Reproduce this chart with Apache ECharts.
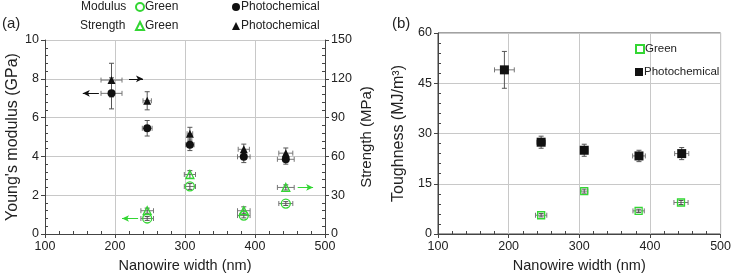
<!DOCTYPE html>
<html>
<head>
<meta charset="utf-8">
<script src="https://cdn.jsdelivr.net/npm/echarts@6/dist/echarts.min.js"></script>
<style>
  html, body { margin: 0; padding: 0; background: #fff; }
  #chart { width: 734px; height: 278px; }
</style>
</head>
<body>
<div id="chart"></div>
<script>
// [width, value, width err, value err]
const modulusGreen = [[246, 0.8, 9, 0.1], [307, 2.45, 8, 0.15], [384, 0.95, 9, 0.12], [444, 1.57, 10, 0.1]];
const modulusPhoto = [[195, 7.25, 15, 0.8], [246, 5.45, 7, 0.4], [307, 4.6, 6, 0.3], [384, 3.98, 9, 0.3], [444, 3.85, 12, 0.25]];
const strengthGreen = [[246, 18, 9, 2], [307, 46, 8, 3], [384, 18, 9, 3], [444, 36, 12, 2]];
const strengthPhoto = [[195, 119, 15, 13], [246, 103, 6, 7], [307, 77.5, 4, 5], [384, 65.5, 8, 4], [444, 62.5, 10, 4]];
const toughGreen = [[246, 5.6, 8, 0.5], [307, 12.8, 5, 0.6], [384, 6.9, 8, 0.5], [444, 9.4, 10, 0.6]];
const toughPhoto = [[194, 49, 14, 5.5], [246, 27.4, 6, 1.8], [307, 25, 5, 1.8], [384.5, 23.3, 9, 1.7], [445, 24, 10, 1.8]];
// arrows pointing to the axis each marker belongs to: [from, to]
const arrowModPhoto = [[177, 7.25], [154, 7.25]];
const arrowStrPhoto = [[220, 120], [240, 120]];
const arrowModGreen = [[233, 0.8], [210, 0.8]];
const arrowStrGreen = [[461, 36], [483, 36]];

const GREEN = '#33d633';
const FONT = 'Liberation Sans';

const chart = echarts.init(document.getElementById('chart'));

function errRender(params, api) {
  const x = api.value(0), y = api.value(1), ex = api.value(2), ey = api.value(3);
  const c = api.coord([x, y]);
  const l = api.coord([x - ex, y]), r = api.coord([x + ex, y]);
  const t = api.coord([x, y + ey]), b = api.coord([x, y - ey]);
  const cap = 2.5;
  const st = { stroke: '#555', lineWidth: 1 };
  const sx = { stroke: '#777', lineWidth: 1 };
  return {
    type: 'group',
    children: [
      { type: 'line', shape: { x1: l[0], y1: c[1], x2: r[0], y2: c[1] }, style: sx },
      { type: 'line', shape: { x1: l[0], y1: c[1] - cap, x2: l[0], y2: c[1] + cap }, style: sx },
      { type: 'line', shape: { x1: r[0], y1: c[1] - cap, x2: r[0], y2: c[1] + cap }, style: sx },
      { type: 'line', shape: { x1: c[0], y1: t[1], x2: c[0], y2: b[1] }, style: st },
      { type: 'line', shape: { x1: c[0] - cap, y1: t[1], x2: c[0] + cap, y2: t[1] }, style: st },
      { type: 'line', shape: { x1: c[0] - cap, y1: b[1], x2: c[0] + cap, y2: b[1] }, style: st }
    ]
  };
}

function errSeries(data, xi, yi) {
  return { type: 'custom', xAxisIndex: xi, yAxisIndex: yi, renderItem: errRender, data: data, z: 1, silent: true };
}

function arrowLine(pts, color) {
  return {
    silent: true,
    symbol: ['none', 'arrow'],
    symbolSize: [5, 7],
    label: { show: false },
    lineStyle: { color: color, type: 'solid', width: 1 },
    data: [[{ coord: pts[0] }, { coord: pts[1] }]]
  };
}

const axisLine = { show: true, lineStyle: { color: '#444', width: 1 } };
const splitLine = { show: true, lineStyle: { color: '#c8c8c8', width: 1 } };
const labelStyle = { color: '#222', fontSize: 12.5, fontFamily: FONT };

function xAxisCfg(gi) {
  return {
    gridIndex: gi, type: 'value', min: 100, max: 500, interval: 100,
    name: 'Nanowire width (nm)', nameLocation: 'middle', nameGap: 24,
    nameTextStyle: { color: '#222', fontSize: 14.5, fontFamily: FONT },
    axisLine: axisLine, axisTick: { show: true, length: 4, lineStyle: { color: '#444' } },
    minorTick: { show: true, splitNumber: 5, length: -3, lineStyle: { color: '#444' } },
    axisLabel: Object.assign({ margin: 6 }, labelStyle), splitLine: splitLine
  };
}

function yAxisCfg(gi, pos, max, interval, name, gap, fs, split) {
  return {
    gridIndex: gi, type: 'value', position: pos, min: 0, max: max, interval: interval,
    name: name, nameLocation: 'middle', nameGap: gap,
    nameTextStyle: { color: '#222', fontSize: fs, fontFamily: FONT },
    axisLine: axisLine, axisTick: { show: true, length: 4, lineStyle: { color: '#444' } },
    minorTick: { show: true, splitNumber: 5, length: -3, lineStyle: { color: '#444' } },
    axisLabel: Object.assign({ margin: 6 }, labelStyle), splitLine: split ? splitLine : { show: false }
  };
}

function legendCfg(left, top, name, fs) {
  return {
    left: left, top: top, data: [name], itemWidth: 8, itemHeight: 8, itemGap: 4,
    formatter: function (n) { return n.indexOf('Green') >= 0 ? 'Green' : 'Photochemical'; },
    textStyle: { color: '#222', fontSize: fs, fontFamily: FONT, padding: [0, 0, 0, -4] },
    selectedMode: false, padding: 0
  };
}

const option = {
  animation: false,
  grid: [
    { left: 45, top: 40, width: 280, height: 198 },
    { left: 438, top: 33, width: 284, height: 202, show: true, borderColor: '#444', borderWidth: 1, backgroundColor: 'transparent' }
  ],
  xAxis: [xAxisCfg(0), xAxisCfg(1)],
  yAxis: [
    yAxisCfg(0, 'left', 10, 2, "Young's modulus (GPa)", 24, 16, true),
    yAxisCfg(0, 'right', 150, 30, 'Strength (MPa)', 34, 15, false),
    yAxisCfg(1, 'left', 60, 15, 'Toughness (MJ/m³)', 31, 16, true)
  ],
  legend: [
    legendCfg(135, 1, 'Modulus Green', 12),
    legendCfg(135, 20, 'Strength Green', 12),
    legendCfg(232, 1, 'Modulus Photochemical', 12),
    legendCfg(232, 20, 'Strength Photochemical', 12),
    legendCfg(635, 43, 'Toughness Green', 11.5),
    legendCfg(635, 66, 'Toughness Photochemical', 11.5)
  ],
  graphic: [
    { type: 'text', left: 81, top: 1, style: { text: 'Modulus', fontSize: 12, fontFamily: FONT, fill: '#222' } },
    { type: 'text', left: 80, top: 20, style: { text: 'Strength', fontSize: 12, fontFamily: FONT, fill: '#222' } },
    { type: 'text', left: 2, top: 16, style: { text: '(a)', fontSize: 15, fontFamily: FONT, fill: '#222' } },
    { type: 'text', left: 392, top: 16, style: { text: '(b)', fontSize: 15, fontFamily: FONT, fill: '#222' } }
  ],
  series: [
    errSeries(modulusPhoto, 0, 0),
    errSeries(strengthPhoto, 0, 1),
    errSeries(modulusGreen, 0, 0),
    errSeries(strengthGreen, 0, 1),
    errSeries(toughPhoto, 1, 2),
    errSeries(toughGreen, 1, 2),
    {
      name: 'Modulus Photochemical', type: 'scatter', xAxisIndex: 0, yAxisIndex: 0, z: 3,
      symbol: 'circle', symbolSize: 8, itemStyle: { color: '#111', opacity: 1 },
      data: modulusPhoto.map(d => [d[0], d[1]]), markLine: arrowLine(arrowModPhoto, '#111')
    },
    {
      name: 'Strength Photochemical', type: 'scatter', xAxisIndex: 0, yAxisIndex: 1, z: 3,
      symbol: 'triangle', symbolSize: 8, itemStyle: { color: '#111', opacity: 1 },
      data: strengthPhoto.map(d => [d[0], d[1]]), markLine: arrowLine(arrowStrPhoto, '#111')
    },
    {
      name: 'Modulus Green', type: 'scatter', xAxisIndex: 0, yAxisIndex: 0, z: 3,
      symbol: 'circle', symbolSize: 9, itemStyle: { color: 'rgba(255,255,255,0)', borderColor: GREEN, borderWidth: 1.3, opacity: 1 },
      data: modulusGreen.map(d => [d[0], d[1]]), markLine: arrowLine(arrowModGreen, GREEN)
    },
    {
      name: 'Strength Green', type: 'scatter', xAxisIndex: 0, yAxisIndex: 1, z: 3,
      symbol: 'triangle', symbolSize: 8, itemStyle: { color: 'rgba(255,255,255,0)', borderColor: GREEN, borderWidth: 1.3, opacity: 1 },
      data: strengthGreen.map(d => [d[0], d[1]]), markLine: arrowLine(arrowStrGreen, GREEN)
    },
    {
      name: 'Toughness Photochemical', type: 'scatter', xAxisIndex: 1, yAxisIndex: 2, z: 3,
      symbol: 'rect', symbolSize: 9, itemStyle: { color: '#111', opacity: 1 },
      data: toughPhoto.map(d => [d[0], d[1]])
    },
    {
      name: 'Toughness Green', type: 'scatter', xAxisIndex: 1, yAxisIndex: 2, z: 3,
      symbol: 'rect', symbolSize: 7, itemStyle: { color: 'rgba(255,255,255,0)', borderColor: GREEN, borderWidth: 1.3, opacity: 1 },
      data: toughGreen.map(d => [d[0], d[1]])
    }
  ]
};

chart.setOption(option);
</script>
</body>
</html>
